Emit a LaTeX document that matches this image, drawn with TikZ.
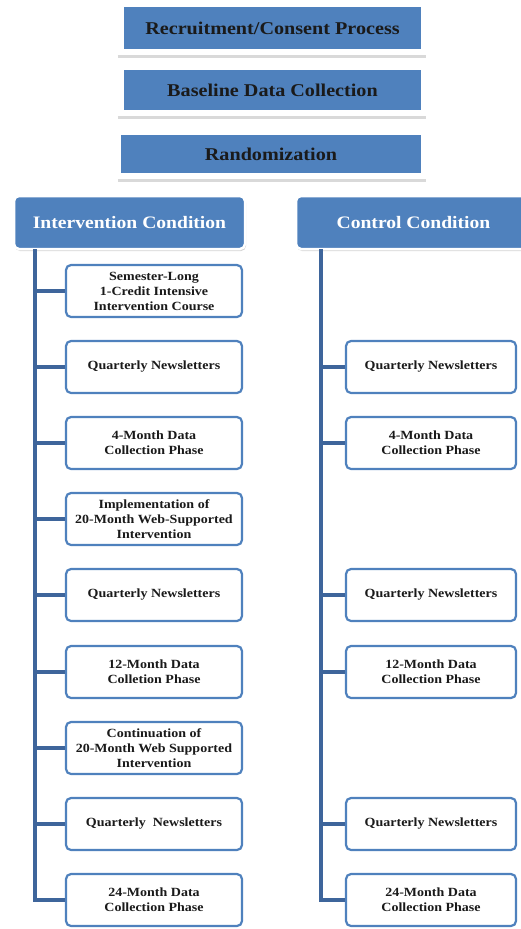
\documentclass[tikz,border=0pt]{standalone}
\usepackage{fontspec}
\setmainfont[FakeStretch=1.12]{Liberation Serif}
\usetikzlibrary{shadows}
\definecolor{hdr}{HTML}{4F81BD}
\definecolor{trunkc}{HTML}{3E659B}
\definecolor{txt}{HTML}{1A1A1A}
\definecolor{shd}{HTML}{D9D9D9}
\begin{document}
\begin{tikzpicture}[x=1pt,y=-1pt,
  topbox/.style={fill=hdr, minimum width=297pt, minimum height=42pt, inner sep=0pt,
    font=\fontsize{18}{20}\selectfont\bfseries, text=txt},
  toprule/.style={shd, line width=3pt},
  hdrbox/.style={fill=hdr, draw=white, line width=2.5pt, rounded corners=5pt,
    minimum height=53pt, inner sep=0pt, text=white,
    font=\fontsize{17.5}{20}\selectfont\bfseries,
    drop shadow={opacity=0.35, shadow xshift=1pt, shadow yshift=-2pt}},
  itembox/.style={draw=hdr, fill=white, line width=2.2pt, rounded corners=5pt,
    minimum height=52pt, inner sep=0pt, align=center, text=txt,
    font=\fontsize{12.5}{15}\selectfont\bfseries},
  lbox/.style={itembox, minimum width=176pt},
  rbox/.style={itembox, minimum width=170pt},
  trunk/.style={draw=trunkc, line width=4pt}]
\useasboundingbox (0,0) rectangle (520,929);

% top sequence
\node[topbox] (rec) at (272.5,28) {Recruitment/Consent Process};
\draw[toprule] ([xshift=-6pt,yshift=-7pt]rec.south west) -- ([xshift=5pt,yshift=-7pt]rec.south east);
\node[topbox, minimum height=40pt] (base) at (272.5,90) {Baseline Data Collection};
\draw[toprule] ([xshift=-6pt,yshift=-7pt]base.south west) -- ([xshift=5pt,yshift=-7pt]base.south east);
\node[topbox, minimum width=300pt, minimum height=38pt] (rand) at (271,154) {Randomization};
\draw[toprule] ([xshift=-3pt,yshift=-7pt]rand.south west) -- ([xshift=5pt,yshift=-7pt]rand.south east);

% condition headers
\node[hdrbox, minimum width=231pt] (int) at (129.5,222.5) {Intervention Condition};
\node[hdrbox, minimum width=235pt] (con) at (413.5,222.5) {Control Condition};

% intervention column
\node[lbox] (L1) at (154,291) {Semester-Long\\1-Credit Intensive\\Intervention Course};
\node[lbox] (L2) at (154,367) {Quarterly Newsletters};
\node[lbox] (L3) at (154,443) {4-Month Data\\Collection Phase};
\node[lbox] (L4) at (154,519) {Implementation of\\20-Month Web-Supported\\Intervention};
\node[lbox] (L5) at (154,595) {Quarterly Newsletters};
\node[lbox] (L6) at (154,672) {12-Month Data\\Colletion Phase};
\node[lbox] (L7) at (154,748) {Continuation of\\20-Month Web Supported\\Intervention};
\node[lbox] (L8) at (154,824) {Quarterly\ \ Newsletters};
\node[lbox] (L9) at (154,900) {24-Month Data\\Collection Phase};

% control column
\node[rbox] (R1) at (431,367) {Quarterly Newsletters};
\node[rbox] (R2) at (431,443) {4-Month Data\\Collection Phase};
\node[rbox] (R3) at (431,595) {Quarterly Newsletters};
\node[rbox] (R4) at (431,672) {12-Month Data\\Collection Phase};
\node[rbox] (R5) at (431,824) {Quarterly Newsletters};
\node[rbox] (R6) at (431,900) {24-Month Data\\Collection Phase};

% trunks
\coordinate (lt) at (35,249);
\coordinate (rt) at (321,249);
\draw[trunk] (lt) |- (L9.west);
\foreach \i in {1,...,8} \draw[trunk] (L\i.west -| lt) -- (L\i.west);
\draw[trunk] (rt) |- (R6.west);
\foreach \i in {1,...,5} \draw[trunk] (R\i.west -| rt) -- (R\i.west);
\end{tikzpicture}
\end{document}
